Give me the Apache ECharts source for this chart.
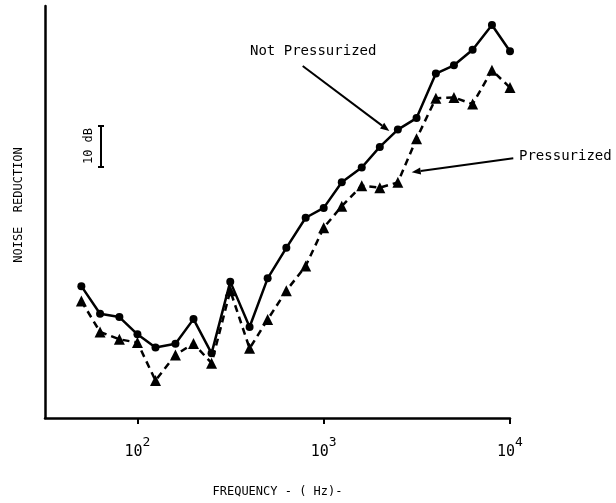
<!DOCTYPE html>
<html>
<head>
<meta charset="utf-8">
<script src="https://cdn.jsdelivr.net/npm/echarts@6/dist/echarts.min.js"></script>
<style>
html,body{margin:0;padding:0;background:#fff;}
#chart{width:616px;height:503px;}
</style>
</head>
<body>
<div id="chart"></div>
<script>
// Third-octave band centre frequencies (Hz)
const frequencies = [50, 63, 80, 100, 125, 160, 200, 250, 315, 400, 500, 630, 800, 1000, 1250, 1600, 2000, 2500, 3150, 4000, 5000, 6300, 8000, 10000];
// Noise reduction (dB, relative scale)
const notPressurized = [32.0, 25.3, 24.5, 20.3, 17.1, 18.0, 24.0, 15.7, 33.1, 22.1, 33.9, 41.3, 48.6, 51.0, 57.2, 60.8, 65.8, 70.0, 72.8, 83.6, 85.6, 89.4, 95.4, 89.0];
const pressurized = [28.4, 20.9, 19.1, 18.3, 9.1, 15.3, 18.1, 13.3, 30.9, 16.9, 23.9, 30.9, 36.9, 46.2, 51.4, 56.4, 55.9, 57.2, 67.8, 77.6, 77.8, 76.2, 84.4, 80.2];
// Tick labels
const tickValues = [100, 1000, 10000];
const tickExponents = ['2', '3', '4'];

const FONT = '"DejaVu Sans Mono", monospace';
const chart = echarts.init(document.getElementById('chart'), null, {renderer: 'canvas'});

function arrow(x1, y1, x2, y2) {
  const ang = Math.atan2(y2 - y1, x2 - x1);
  const L = 9, W = 3.5;
  const bx = x2 - L * Math.cos(ang), by = y2 - L * Math.sin(ang);
  const px = -Math.sin(ang) * W, py = Math.cos(ang) * W;
  return [
    {type: 'line', shape: {x1: x1, y1: y1, x2: bx, y2: by}, style: {stroke: '#000', lineWidth: 2}},
    {type: 'polygon', shape: {points: [[x2, y2], [bx + px, by + py], [bx - px, by - py]]}, style: {fill: '#000'}}
  ];
}

const option = {
  animation: false,
  backgroundColor: '#fff',
  grid: {left: 45, right: 106, top: 6, bottom: 81, containLabel: false},
  xAxis: {
    type: 'log',
    logBase: 10,
    min: 31.9,
    max: 10000,
    name: 'FREQUENCY - ( Hz)-',
    nameLocation: 'middle',
    nameGap: 68,
    nameTextStyle: {fontFamily: FONT, fontSize: 12, color: '#000'},
    axisLine: {show: true, lineStyle: {color: '#000', width: 2.5}},
    axisTick: {show: true, inside: false, length: 6, customValues: tickValues, lineStyle: {color: '#000', width: 2}},
    splitLine: {show: false},
    minorTick: {show: false},
    axisLabel: {
      customValues: tickValues,
      margin: 18,
      formatter: function (v) {
        const i = tickValues.indexOf(v);
        const e = i >= 0 ? tickExponents[i] : String(Math.round(Math.log10(v)));
        return '{b|10}{s|' + e + '}';
      },
      rich: {
        b: {fontFamily: FONT, fontSize: 15, color: '#000', lineHeight: 24, verticalAlign: 'bottom'},
        s: {fontFamily: FONT, fontSize: 13, color: '#000', lineHeight: 24, verticalAlign: 'top'}
      }
    }
  },
  yAxis: {
    type: 'value',
    min: 0,
    max: 100,
    name: 'NOISE  REDUCTION',
    nameLocation: 'middle',
    nameGap: 20,
    nameTextStyle: {fontFamily: FONT, fontSize: 12, color: '#000', padding: [0, 0, 0, 14]},
    axisLine: {show: true, lineStyle: {color: '#000', width: 2.5}},
    axisTick: {show: false},
    axisLabel: {show: false},
    splitLine: {show: false}
  },
  series: [
    {
      name: 'Not Pressurized',
      type: 'line',
      data: frequencies.map((f, i) => [f, notPressurized[i]]),
      symbol: 'circle',
      symbolSize: 8,
      lineStyle: {color: '#000', width: 2.5},
      itemStyle: {color: '#000'},
      z: 3
    },
    {
      name: 'Pressurized',
      type: 'line',
      data: frequencies.map((f, i) => [f, pressurized[i]]),
      symbol: 'triangle',
      symbolSize: 11,
      lineStyle: {color: '#000', width: 2.5, type: [7, 5]},
      itemStyle: {color: '#000'},
      z: 2
    }
  ],
  graphic: [
    {type: 'text', left: 250, top: 44, style: {text: 'Not Pressurized', font: '14px ' + FONT, fill: '#000'}},
    {type: 'text', left: 519, top: 149, style: {text: 'Pressurized', font: '14px ' + FONT, fill: '#000'}},
    ...arrow(302.7, 66, 389.3, 131),
    ...arrow(513.3, 158.3, 411.7, 172.3),
    // 10 dB scale bar
    {type: 'line', shape: {x1: 101, y1: 126, x2: 101, y2: 167}, style: {stroke: '#000', lineWidth: 2}},
    {type: 'line', shape: {x1: 98, y1: 126, x2: 104, y2: 126}, style: {stroke: '#000', lineWidth: 2}},
    {type: 'line', shape: {x1: 98, y1: 167, x2: 104, y2: 167}, style: {stroke: '#000', lineWidth: 2}},
    {type: 'text', x: 89, y: 146, rotation: Math.PI / 2,
      style: {text: '10 dB', font: '12px ' + FONT, fill: '#000', textAlign: 'center', textVerticalAlign: 'middle'}}
  ]
};
chart.setOption(option);
</script>
</body>
</html>
